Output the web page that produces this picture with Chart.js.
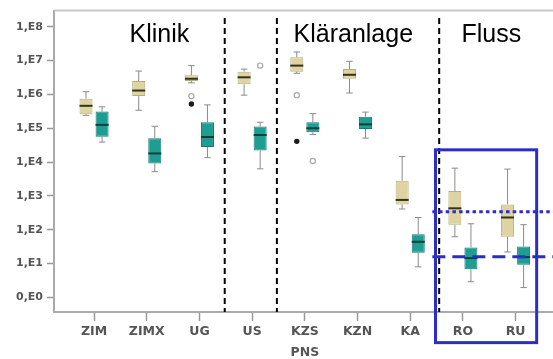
<!DOCTYPE html>
<html>
<head>
<meta charset="utf-8">
<script src="https://cdn.jsdelivr.net/npm/chart.js@4.4.0/dist/chart.umd.min.js"></script>
<style>
  body { margin: 0; background: #fff; }
  #wrap { width: 553px; height: 359px; }
</style>
</head>
<body>
<div id="wrap"><canvas id="myChart" width="553" height="359"></canvas></div>
<script>
// categories (x axis)
const categories = ['ZIM', 'ZIMX', 'UG', 'US', ['KZS', 'PNS'], 'KZN', 'KA', 'RO', 'RU'];

// tan series: five number summary per category
const tanMin = [2.4e5, 3.4e5, 2.2e6, 9.5e5, 4.2e6, 1.1e6, 410, 62, 22];
const tanQ1  = [2.6e5, 8.9e5, 2.5e6, 2.0e6, 4.7e6, 2.9e6, 560, 140, 62];
const tanMed = [4.6e5, 1.3e6, 2.9e6, 3.2e6, 7.1e6, 3.8e6, 760, 430, 230];
const tanQ3  = [7.5e5, 2.5e6, 3.7e6, 4.7e6, 1.26e7, 5.6e6, 2800, 1400, 560];
const tanMax = [1.2e6, 4.9e6, 7.1e6, 5.6e6, 1.8e7, 9.5e6, 14500, 6600, 6200];
const tanOutliers = [[], [], [8.9e5], [], [9.5e5], [], [], [], []];
const tanExtremes = [[], [], [5.2e5], [], [4.1e4], [], [], [], []];

// teal series
const tealMin = [3.9e4, 5200, 1.35e4, 6300, 6.5e4, 5.1e4, 8, 2.9, 1.95];
const tealQ1  = [5.6e4, 9100, 2.8e4, 2.2e4, 7.6e4, 9.5e4, 21, 6.8, 9.3];
const tealMed = [1.26e5, 1.8e4, 5.5e4, 6.3e4, 1.0e5, 1.3e5, 44, 14.5, 15.5];
const tealQ3  = [3.1e5, 5.1e4, 1.5e5, 1.12e5, 1.5e5, 2.2e5, 74, 30, 32];
const tealMax = [4.3e5, 1.14e5, 4.9e5, 1.5e5, 2.7e5, 3.0e5, 230, 150, 141];
const tealOutliers = [[], [], [], [7.1e6], [1.07e4], [], [], [], []];
const tealExtremes = [[], [], [], [], [], [], [], [], []];

// y ticks
const yTicks = [1, 1e1, 1e2, 1e3, 1e4, 1e5, 1e6, 1e7, 1e8];
const yTickLabels = ['0,E0', '1,E1', '1,E2', '1,E3', '1,E4', '1,E5', '1,E6', '1,E7', '1,E8'];

// group headers and separators (x in category units)
const sections = ['Klinik', 'Kläranlage', 'Fluss'];
const sectionCenters = [1.24, 4.92, 7.54];
const dividers = [2.48, 3.47, 6.55];

// reference levels marked in the river box
const refDotted = 340;
const refDashed = 16;

const summaries = [
    { min: tanMin, med: tanMed, max: tanMax, out: tanOutliers, ext: tanExtremes, medColor: '#34331a' },
    { min: tealMin, med: tealMed, max: tealMax, out: tealOutliers, ext: tealExtremes, medColor: '#0a403c' }
];

const boxPlotPlugin = {
    id: 'boxplot',
    afterDatasetsDraw(chart) {
        const ctx = chart.ctx;
        const y = chart.scales.y;
        summaries.forEach((s, di) => {
            const meta = chart.getDatasetMeta(di);
            meta.data.forEach((bar, i) => {
                const x = bar.x;
                const w = bar.width;
                const top = Math.min(bar.y, bar.base);
                const bottom = Math.max(bar.y, bar.base);
                ctx.save();
                ctx.strokeStyle = '#8a8a8a';
                ctx.lineWidth = 1;
                const yMax = y.getPixelForValue(s.max[i]);
                const yMin = y.getPixelForValue(s.min[i]);
                ctx.beginPath();
                ctx.moveTo(x, top); ctx.lineTo(x, yMax);
                ctx.moveTo(x, bottom); ctx.lineTo(x, yMin);
                ctx.moveTo(x - w / 4, yMax); ctx.lineTo(x + w / 4, yMax);
                ctx.moveTo(x - w / 4, yMin); ctx.lineTo(x + w / 4, yMin);
                ctx.stroke();
                // median
                ctx.strokeStyle = s.medColor;
                ctx.lineWidth = 2;
                const yMed = y.getPixelForValue(s.med[i]);
                ctx.beginPath();
                ctx.moveTo(x - w / 2, yMed); ctx.lineTo(x + w / 2, yMed);
                ctx.stroke();
                // outliers
                s.out[i].forEach(v => {
                    ctx.beginPath();
                    ctx.arc(x, y.getPixelForValue(v), 2.6, 0, Math.PI * 2);
                    ctx.fillStyle = '#fff';
                    ctx.fill();
                    ctx.strokeStyle = '#a8a8a8';
                    ctx.lineWidth = 1.2;
                    ctx.stroke();
                });
                s.ext[i].forEach(v => {
                    ctx.beginPath();
                    ctx.arc(x, y.getPixelForValue(v), 2.7, 0, Math.PI * 2);
                    ctx.fillStyle = '#1a1a1a';
                    ctx.fill();
                });
                ctx.restore();
            });
        });
    },
    afterDraw(chart) {
        const ctx = chart.ctx;
        const xs = chart.scales.x;
        const ys = chart.scales.y;
        const area = chart.chartArea;
        ctx.save();
        // frame top
        ctx.strokeStyle = '#c8c8c8';
        ctx.lineWidth = 2;
        ctx.beginPath();
        ctx.moveTo(area.left, area.top); ctx.lineTo(area.right, area.top);
        ctx.stroke();
        // dividers
        ctx.strokeStyle = '#000';
        ctx.lineWidth = 2;
        ctx.setLineDash([6, 4]);
        dividers.forEach(d => {
            const px = xs.getPixelForValue(d);
            ctx.beginPath();
            ctx.moveTo(px, ys.getPixelForValue(1.8e8));
            ctx.lineTo(px, area.bottom);
            ctx.stroke();
        });
        ctx.setLineDash([]);
        // section headings
        ctx.fillStyle = '#000';
        ctx.font = '25px "Liberation Sans", Arial, sans-serif';
        ctx.textAlign = 'center';
        ctx.textBaseline = 'alphabetic';
        sections.forEach((t, i) => {
            ctx.fillText(t, xs.getPixelForValue(sectionCenters[i]), ys.getPixelForValue(3.6e7));
        });
        // river highlight box and reference levels
        const blue = '#2c2cc6';
        ctx.strokeStyle = blue;
        ctx.lineWidth = 3;
        const bx0 = xs.getPixelForValue(6.48);
        const bx1 = xs.getPixelForValue(8.40);
        const by0 = ys.getPixelForValue(2.3e4);
        const by1 = ys.getPixelForValue(0.046);
        ctx.strokeRect(bx0, by0, bx1 - bx0, by1 - by0);
        const lx = xs.getPixelForValue(6.42);
        ctx.setLineDash([3.5, 3.2]);
        ctx.beginPath();
        ctx.moveTo(lx, ys.getPixelForValue(refDotted));
        ctx.lineTo(chart.width, ys.getPixelForValue(refDotted));
        ctx.stroke();
        ctx.setLineDash([13, 7]);
        ctx.beginPath();
        ctx.moveTo(lx, ys.getPixelForValue(refDashed));
        ctx.lineTo(chart.width, ys.getPixelForValue(refDashed));
        ctx.stroke();
        ctx.restore();
    }
};

const ctx = document.getElementById('myChart').getContext('2d');
new Chart(ctx, {
    type: 'bar',
    data: {
        datasets: [
            {
                label: 'tan',
                data: categories.map((c, i) => ({ x: i, y: [tanQ1[i], tanQ3[i]] })),
                backgroundColor: '#ddd4a2',
                borderColor: '#b9ae7a',
                borderWidth: 1,
                borderSkipped: false
            },
            {
                label: 'teal',
                data: categories.map((c, i) => ({ x: i, y: [tealQ1[i], tealQ3[i]] })),
                backgroundColor: '#1e9e92',
                borderColor: '#147a71',
                borderWidth: 1,
                borderSkipped: false
            }
        ]
    },
    options: {
        responsive: false,
        animation: false,
        devicePixelRatio: 1,
        categoryPercentage: 0.61,
        barPercentage: 0.81,
        layout: { padding: { top: 4, right: 0, left: 0, bottom: 0 } },
        plugins: { legend: { display: false }, tooltip: { enabled: false } },
        scales: {
            x: {
                type: 'linear',
                offset: false,
                min: -0.76,
                max: 8.71,
                afterBuildTicks: s => { s.ticks = categories.map((c, i) => ({ value: i })); },
                afterFit: s => { s.height = 47; },
                grid: { drawOnChartArea: false, offset: false, tickLength: 9, color: '#999', tickWidth: 1.5 },
                border: { color: '#aaa', width: 2 },
                ticks: {
                    padding: 0,
                    maxRotation: 0,
                    autoSkip: false,
                    color: '#555',
                    font: { family: 'DejaVu Sans', weight: 'bold', size: 12.5, lineHeight: '21px' },
                    callback: v => categories[v]
                }
            },
            y: {
                type: 'logarithmic',
                min: 0.37,
                max: 3.0e8,
                afterBuildTicks: s => { s.ticks = yTicks.map(v => ({ value: v })); },
                afterFit: s => { s.width = 54; },
                grid: { drawOnChartArea: false, tickLength: 7, color: '#999', tickWidth: 1.5 },
                border: { color: '#aaa', width: 2 },
                ticks: {
                    padding: 4,
                    color: '#555',
                    font: { family: 'DejaVu Sans', weight: 'bold', size: 11 },
                    callback: v => yTickLabels[yTicks.indexOf(v)]
                }
            }
        }
    },
    plugins: [boxPlotPlugin]
});
</script>
</body>
</html>
